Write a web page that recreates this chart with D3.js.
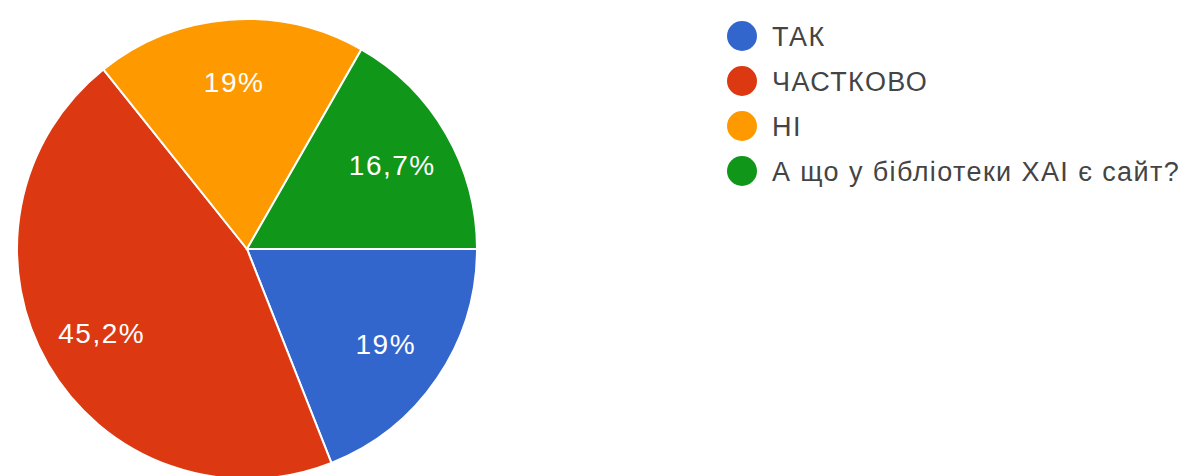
<!DOCTYPE html>
<html>
<head>
<meta charset="utf-8">
<script src="https://cdn.jsdelivr.net/npm/d3@7"></script>
<style>
  body { margin: 0; background: #fff; }
  svg { display: block; font-family: "Liberation Sans", Arial, sans-serif; }
</style>
</head>
<body>
<script>
// answers, shares (percent) and Google palette colours
const labels = ['ТАК', 'ЧАСТКОВО', 'НІ', 'А що у бібліотеки ХАІ є сайт?'];
const values = [19, 45.2, 19, 16.7];
const valueText = ['19%', '45,2%', '19%', '16,7%'];
const colors = ['#3366cc', '#dc3912', '#ff9900', '#109618'];

const WIDTH = 1187, HEIGHT = 476;
const CX = 247, CY = 249, RADIUS = 230;
const LABEL_RADIUS = RADIUS * 0.73;

const svg = d3.select('body').append('svg')
  .attr('width', WIDTH)
  .attr('height', HEIGHT);

const data = labels.map(function (l, i) {
  return { label: l, value: values[i], text: valueText[i], color: colors[i] };
});

// pie starts at 3 o'clock and goes clockwise
const pie = d3.pie()
  .sort(null)
  .value(function (d) { return d.value; })
  .startAngle(Math.PI / 2)
  .endAngle(Math.PI / 2 + 2 * Math.PI);

const arc = d3.arc().innerRadius(0).outerRadius(RADIUS);
const labelArc = d3.arc().innerRadius(LABEL_RADIUS).outerRadius(LABEL_RADIUS);

const g = svg.append('g')
  .attr('transform', 'translate(' + CX + ',' + CY + ')');

const arcs = pie(data);

g.selectAll('path.slice')
  .data(arcs)
  .enter().append('path')
    .attr('class', 'slice')
    .attr('d', arc)
    .attr('fill', function (d) { return d.data.color; })
    .attr('stroke', '#fff')
    .attr('stroke-width', 2);

g.selectAll('text.pct')
  .data(arcs)
  .enter().append('text')
    .attr('class', 'pct')
    .attr('transform', function (d) { return 'translate(' + labelArc.centroid(d) + ')'; })
    .attr('text-anchor', 'middle')
    .attr('dy', '0.36em')
    .attr('fill', '#fff')
    .attr('font-size', 28)
    .attr('letter-spacing', 1.5)
    .text(function (d) { return d.data.text; });

// legend
const legend = svg.append('g')
  .attr('transform', 'translate(742,36)');

const item = legend.selectAll('g.item')
  .data(data)
  .enter().append('g')
    .attr('class', 'item')
    .attr('transform', function (d, i) { return 'translate(0,' + (i * 45) + ')'; });

item.append('circle')
  .attr('r', 15)
  .attr('fill', function (d) { return d.color; });

item.append('text')
  .attr('x', 30)
  .attr('dy', '0.36em')
  .attr('fill', '#444')
  .attr('font-size', 27)
  .attr('letter-spacing', 1.4)
  .text(function (d) { return d.label; });
</script>
</body>
</html>
